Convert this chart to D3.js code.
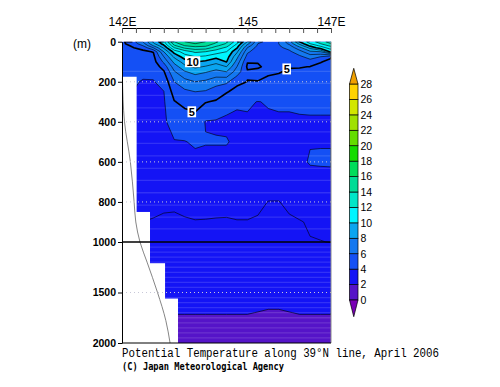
<!DOCTYPE html>
<html>
<head>
<meta charset="utf-8">
<script src="https://cdn.jsdelivr.net/npm/d3@7"></script>
<style>
body { margin: 0; background: #fff; }
svg { display: block; }
</style>
</head>
<body>
<div id="chart"></div>
<script>
// section grid
const lons = [142.00, 142.25, 142.50, 142.75, 143.00, 143.25, 143.50, 143.75, 144.00, 144.25, 144.50,
              144.75, 145.00, 145.25, 145.50, 145.75, 146.00, 146.25, 146.50, 146.75, 147.00];
const depths = [0, 10, 20, 30, 50, 75, 100, 125, 150, 200, 250, 300, 400, 500, 600, 700, 800, 900,
                1000, 1200, 1400, 1600, 1700, 1800, 2000];

// potential temperature (degC), one row per longitude, one value per depth above
const tempByLon = [
  [4.8, 4.8, 4.7, 4.7, 4.6, 4.5, 4.4, 4.3, 4.2, 4.1, 4.0, 3.9, 3.8, 3.7, 3.6, 3.5, 3.3, 3.1, 2.9, 2.6, 2.35, 2.15, 2.05, 1.95, 1.8],
  [5.6, 5.4, 5.1, 4.95, 4.8, 4.7, 4.6, 4.5, 4.4, 4.2, 4.0, 3.9, 3.8, 3.7, 3.6, 3.5, 3.3, 3.05, 2.88, 2.58, 2.32, 2.13, 2.03, 1.92, 1.78],
  [7.0, 6.6, 6.0, 5.3, 4.8, 4.6, 4.5, 4.4, 4.3, 3.9, 3.8, 3.75, 3.7, 3.6, 3.55, 3.45, 3.3, 3.0, 2.85, 2.55, 2.3, 2.12, 2.02, 1.9, 1.75],
  [9.2, 8.8, 8.0, 7.0, 5.05, 4.75, 4.6, 4.4, 4.2, 3.95, 3.85, 3.8, 3.75, 3.7, 3.6, 3.45, 3.2, 2.95, 2.85, 2.55, 2.3, 2.12, 2.02, 1.9, 1.75],
  [10.8, 10.4, 9.8, 9.2, 8.0, 7.0, 6.2, 5.4, 4.9, 4.3, 3.98, 3.9, 3.85, 3.8, 3.65, 3.5, 3.15, 2.88, 2.8, 2.55, 2.3, 2.12, 2.02, 1.9, 1.75],
  [14.0, 13.5, 12.8, 12.0, 10.4, 9.2, 8.3, 7.5, 6.9, 6.0, 5.4, 4.95, 4.4, 3.95, 3.7, 3.5, 3.15, 2.85, 2.78, 2.55, 2.3, 2.12, 2.02, 1.9, 1.75],
  [15.0, 14.6, 14.0, 13.2, 11.5, 10.5, 9.5, 8.7, 7.9, 6.6, 5.8, 5.25, 4.5, 3.97, 3.75, 3.55, 3.2, 2.93, 2.8, 2.55, 2.3, 2.12, 2.02, 1.9, 1.75],
  [15.3, 15.0, 14.4, 13.6, 12.2, 11.0, 10.05, 9.2, 8.4, 7.0, 6.0, 5.4, 4.6, 4.1, 3.8, 3.55, 3.25, 2.97, 2.82, 2.55, 2.3, 2.12, 2.02, 1.9, 1.75],
  [15.0, 14.7, 14.2, 13.5, 12.0, 10.8, 9.8, 8.9, 8.1, 6.8, 5.9, 5.05, 3.95, 4.05, 3.75, 3.55, 3.25, 2.96, 2.82, 2.55, 2.3, 2.12, 2.02, 1.9, 1.75],
  [14.2, 13.8, 13.2, 12.6, 11.5, 10.3, 9.3, 8.5, 7.7, 6.4, 5.5, 4.9, 3.9, 4.05, 3.75, 3.55, 3.2, 2.95, 2.82, 2.55, 2.3, 2.12, 2.02, 1.9, 1.75],
  [13.2, 12.9, 12.4, 11.8, 11.0, 10.5, 10.05, 9.0, 8.0, 6.2, 5.1, 4.3, 3.85, 4.05, 3.75, 3.5, 3.2, 2.94, 2.82, 2.55, 2.3, 2.12, 2.02, 1.9, 1.75],
  [11.5, 11.0, 10.5, 10.1, 9.2, 8.3, 7.6, 7.0, 6.5, 5.3, 4.6, 4.1, 3.85, 3.85, 3.7, 3.5, 3.25, 2.97, 2.82, 2.55, 2.3, 2.12, 2.02, 1.9, 1.75],
  [9.0, 8.3, 7.6, 7.0, 6.2, 5.6, 5.05, 4.85, 5.1, 4.98, 4.5, 4.1, 3.9, 3.9, 3.75, 3.5, 3.25, 2.97, 2.83, 2.55, 2.3, 2.12, 2.02, 1.9, 1.75],
  [6.2, 6.0, 5.8, 5.6, 5.4, 5.2, 5.05, 4.9, 5.2, 4.98, 4.6, 3.98, 3.85, 3.8, 3.7, 3.5, 3.2, 2.9, 2.8, 2.55, 2.3, 2.12, 1.99, 1.88, 1.75],
  [5.8, 5.7, 5.6, 5.5, 5.4, 5.3, 5.25, 5.2, 5.1, 4.85, 4.4, 4.05, 3.9, 3.85, 3.7, 3.4, 2.98, 2.9, 2.8, 2.5, 2.25, 2.08, 1.96, 1.88, 1.75],
  [6.0, 6.0, 5.9, 5.8, 5.6, 5.45, 5.35, 5.2, 5.05, 4.75, 4.3, 4.05, 3.95, 3.85, 3.7, 3.4, 2.98, 2.9, 2.8, 2.5, 2.25, 2.08, 1.96, 1.88, 1.75],
  [7.6, 7.2, 6.7, 6.3, 5.8, 5.5, 5.3, 5.05, 4.9, 4.6, 4.25, 4.05, 3.95, 3.85, 3.7, 3.45, 3.15, 2.9, 2.8, 2.55, 2.3, 2.12, 1.99, 1.88, 1.75],
  [10.05, 9.3, 8.5, 7.7, 6.6, 5.8, 5.35, 5.05, 4.85, 4.5, 4.2, 4.05, 3.97, 3.9, 3.8, 3.55, 3.25, 2.97, 2.82, 2.55, 2.3, 2.12, 2.02, 1.9, 1.75],
  [11.5, 11.0, 10.2, 9.3, 7.8, 6.4, 5.6, 4.98, 4.8, 4.45, 4.2, 4.1, 3.95, 3.95, 4.08, 3.6, 3.3, 3.05, 2.98, 2.58, 2.3, 2.12, 2.02, 1.9, 1.75],
  [12.5, 12.0, 11.2, 10.5, 8.0, 6.0, 5.05, 4.8, 4.6, 4.35, 4.15, 4.1, 3.95, 3.95, 4.1, 3.65, 3.35, 3.1, 2.99, 2.6, 2.32, 2.12, 2.02, 1.9, 1.76],
  [13.5, 13.0, 12.3, 11.5, 10.3, 5.1, 4.8, 4.65, 4.5, 4.3, 4.15, 4.1, 3.95, 3.95, 4.1, 3.7, 3.4, 3.15, 3.01, 2.62, 2.34, 2.12, 2.02, 1.9, 1.77]
];

// sea bottom steps (white)
const stepLonE = [142.35, 142.67, 143.03, 143.34];
const stepDepth = [175, 850, 1210, 1560];

// thin grey reference curve
const curveLon = [142.01, 142.06, 142.20, 142.29, 142.33, 142.43, 142.60, 142.85, 143.05, 143.15];
const curveDepth = [180, 400, 600, 800, 900, 1000, 1200, 1500, 1780, 2000];

// contour labels
const labelLon = [143.69, 143.67, 145.94];
const labelDepth = [100, 350, 136];
const labelText = ["10", "5", "5"];

// colour scale
const colorLevels = [0, 2, 4, 6, 8, 10, 12, 14, 16, 18, 20, 22, 24, 26, 28];
const bandColors = ["#7800b4", "#5514c8", "#1414f5", "#1450f5", "#1478f0", "#0aa5f0", "#00f5ff", "#00e6c8",
                    "#00dc96", "#00dc5a", "#14dc00", "#64dc00", "#a0e100", "#d2e600", "#ffd200", "#f0a000"];

// axis ticks
const depthTicks = [0, 200, 400, 600, 800, 1000, 1500, 2000];
const gridDepths = [200, 400, 600, 800, 1500];
const lonLabels = {142: "142E", 145: "145", 147: "147E"};

// faint horizontal banding of the shading
const stripeDepths = [148, 208, 268, 330, 390, 450, 508, 570, 632, 692, 754, 816, 876, 934,
                      1050, 1100, 1150, 1200, 1250, 1300, 1350, 1400, 1450, 1550, 1600, 1650,
                      1700, 1750, 1800, 1850, 1900, 1950];

const W = 500, H = 387;
const svg = d3.select("#chart").append("svg").attr("width", W).attr("height", H);

const x = d3.scaleLinear().domain([142, 147]).range([122, 331]);
const y = d3.scaleLinear().domain([0, 1000, 2000]).range([41.7, 242, 343]);

const n = lons.length, m = depths.length;
const values = new Array(n * m);
for (let j = 0; j < m; j++) for (let i = 0; i < n; i++) values[j * n + i] = tempByLon[i][j];

function fromIdx(arr, c) {
  let f = Math.max(0, Math.min(arr.length - 1, c - 0.5));
  let i = Math.min(arr.length - 2, Math.floor(f));
  return arr[i] + (f - i) * (arr[i + 1] - arr[i]);
}
const proj = d3.geoTransform({
  point: function(px, py) { this.stream.point(x(fromIdx(lons, px)), y(fromIdx(depths, py))); }
});
const path = d3.geoPath(proj);

svg.append("clipPath").attr("id", "plot")
  .append("rect").attr("x", 122).attr("y", 41.7).attr("width", 209).attr("height", 301.3);

const field = svg.append("g").attr("clip-path", "url(#plot)");

// base colour then filled bands
field.append("rect").attr("x", 122).attr("y", 41.7).attr("width", 209).attr("height", 301.3)
  .attr("fill", bandColors[1]);

const fills = d3.contours().size([n, m]).thresholds(colorLevels.slice(1))(values);
field.selectAll("path.band").data(fills).enter().append("path")
  .attr("class", "band")
  .attr("d", path)
  .attr("fill", d => bandColors[colorLevels.indexOf(d.value) + 1]);

// banding
field.selectAll("line.stripe").data(stripeDepths).enter().append("line")
  .attr("x1", 122).attr("x2", 331)
  .attr("y1", d => y(d)).attr("y2", d => y(d))
  .attr("stroke", "#fff").attr("stroke-opacity", 0.13).attr("stroke-width", 1.3);

// contour lines, every 1 degC
const lineLevels = d3.range(2, 17);
const lines = d3.contours().size([n, m]).thresholds(lineLevels)(values);
function linePath(c) {
  let s = "";
  c.coordinates.forEach(poly => poly.forEach(ring => {
    let pen = false;
    for (let k = 0; k < ring.length - 1; k++) {
      const a = ring[k], b = ring[k + 1];
      const edge = (a[0] === 0 && b[0] === 0) || (a[0] === n && b[0] === n) ||
                   (a[1] === 0 && b[1] === 0) || (a[1] === m && b[1] === m);
      if (edge) { pen = false; continue; }
      if (!pen) s += "M" + x(fromIdx(lons, a[0])).toFixed(2) + "," + y(fromIdx(depths, a[1])).toFixed(2);
      s += "L" + x(fromIdx(lons, b[0])).toFixed(2) + "," + y(fromIdx(depths, b[1])).toFixed(2);
      pen = true;
    }
  }));
  return s;
}
field.selectAll("path.iso").data(lines).enter().append("path")
  .attr("class", "iso")
  .attr("d", linePath)
  .attr("fill", "none")
  .attr("stroke", "#000")
  .attr("stroke-linejoin", "round")
  .attr("stroke-width", d => (d.value === 5 || d.value === 10) ? 1.6 : 0.6);

// sea bottom, each step drawn from the left edge so they overlap cleanly
field.selectAll("rect.bottom").data(stepDepth).enter().append("rect")
  .attr("x", 121)
  .attr("width", (d, i) => x(stepLonE[i]) - 121)
  .attr("y", d => y(d))
  .attr("height", d => y(2000) - y(d) + 1)
  .attr("fill", "#fff");

// contour labels
const lab = field.selectAll("g.lab").data(labelText).enter().append("g")
  .attr("transform", (d, i) => `translate(${x(labelLon[i])},${y(labelDepth[i])})`);
lab.append("rect")
  .attr("x", d => -d.length * 3.3 - 1).attr("y", -5.5)
  .attr("width", d => d.length * 6.6 + 2).attr("height", 11)
  .attr("fill", "#fff");
lab.append("text")
  .attr("text-anchor", "middle").attr("y", 4)
  .attr("font-family", "Liberation Sans, Arial, sans-serif")
  .attr("font-size", 11).attr("font-weight", "bold")
  .text(d => d);

// grey curve
svg.append("path")
  .datum(curveLon.map((v, i) => [v, curveDepth[i]]))
  .attr("d", d3.line().x(d => x(d[0])).y(d => y(d[1])).curve(d3.curveMonotoneY))
  .attr("fill", "none").attr("stroke", "#777").attr("stroke-width", 0.9);

// dotted grid
svg.selectAll("line.grid").data(gridDepths).enter().append("line")
  .attr("x1", 122).attr("x2", 331)
  .attr("y1", d => y(d)).attr("y2", d => y(d))
  .attr("stroke", "#c8c8d8").attr("stroke-width", 1)
  .attr("stroke-dasharray", "1,3");

// 1000 m line
svg.append("line")
  .attr("x1", 122).attr("x2", 331).attr("y1", y(1000)).attr("y2", y(1000))
  .attr("stroke", "#000").attr("stroke-width", 1.3);

// frame
svg.append("line").attr("x1", 331).attr("x2", 331).attr("y1", y(0)).attr("y2", y(2000))
  .attr("stroke", "#888").attr("stroke-width", 1);
svg.append("line").attr("x1", 122).attr("x2", 331).attr("y1", y(2000)).attr("y2", y(2000))
  .attr("stroke", "#000").attr("stroke-width", 1);

// left axis
const yAxis = svg.append("g").attr("transform", "translate(122,0)")
  .call(d3.axisLeft(y).tickValues(depthTicks).tickFormat(d3.format("d"))
    .tickSize(4).tickPadding(2).tickSizeOuter(0));
yAxis.select(".domain").attr("stroke", "#000");
yAxis.selectAll("text")
  .attr("font-family", "Liberation Sans, Arial, sans-serif")
  .attr("font-size", 10.5).attr("font-weight", "bold").attr("fill", "#000");

svg.append("text").attr("x", 73).attr("y", 48)
  .attr("font-family", "Liberation Sans, Arial, sans-serif").attr("font-size", 12)
  .text("(m)");

// top axis
const xAxis = svg.append("g").attr("transform", "translate(0,28)")
  .call(d3.axisTop(x)
    .tickValues(d3.range(0, 16).map(k => 142 + k / 3))
    .tickSizeInner(-5).tickSizeOuter(0).tickPadding(2)
    .tickFormat(d => lonLabels[Math.round(d * 1000) / 1000] || ""));
xAxis.select(".domain").attr("stroke", "#000");
xAxis.selectAll("line").attr("stroke", "#555");
xAxis.selectAll("text")
  .attr("font-family", "Liberation Sans, Arial, sans-serif")
  .attr("font-size", 12).attr("fill", "#000");

// colour bar
const cb = d3.scaleLinear().domain([0, 28]).range([300, 84]);
const cbX = 349.5, cbW = 8.5;
const cbg = svg.append("g");
cbg.selectAll("rect").data(colorLevels.slice(0, -1)).enter().append("rect")
  .attr("x", cbX).attr("width", cbW)
  .attr("y", d => cb(d + 2)).attr("height", d => cb(d) - cb(d + 2))
  .attr("fill", (d, i) => bandColors[i + 1])
  .attr("stroke", "#000").attr("stroke-width", 0.7);
cbg.append("path")
  .attr("d", `M${cbX},${cb(28)}L${cbX + cbW},${cb(28)}L${cbX + cbW / 2},${cb(28) - 15.7}Z`)
  .attr("fill", bandColors[15]).attr("stroke", "#000").attr("stroke-width", 0.7);
cbg.append("path")
  .attr("d", `M${cbX},${cb(0)}L${cbX + cbW},${cb(0)}L${cbX + cbW / 2},${cb(0) + 16.7}Z`)
  .attr("fill", bandColors[0]).attr("stroke", "#000").attr("stroke-width", 0.7);
cbg.selectAll("text").data(colorLevels).enter().append("text")
  .attr("x", 360.5).attr("y", d => cb(d) + 3.8)
  .attr("font-family", "Liberation Sans, Arial, sans-serif")
  .attr("font-size", 10.5)
  .text(d => d);

// titles
svg.append("text").attr("x", 122).attr("y", 357)
  .attr("font-family", "Liberation Mono, Courier New, monospace")
  .attr("font-size", 12.5)
  .attr("textLength", 317).attr("lengthAdjust", "spacingAndGlyphs")
  .text("Potential Temperature along 39°N line, April 2006");
svg.append("text").attr("x", 122).attr("y", 369.5)
  .attr("font-family", "DejaVu Sans Mono, monospace")
  .attr("font-size", 10).attr("font-weight", "bold")
  .attr("textLength", 162).attr("lengthAdjust", "spacingAndGlyphs")
  .text("(C) Japan Meteorological Agency");
</script>
</body>
</html>
